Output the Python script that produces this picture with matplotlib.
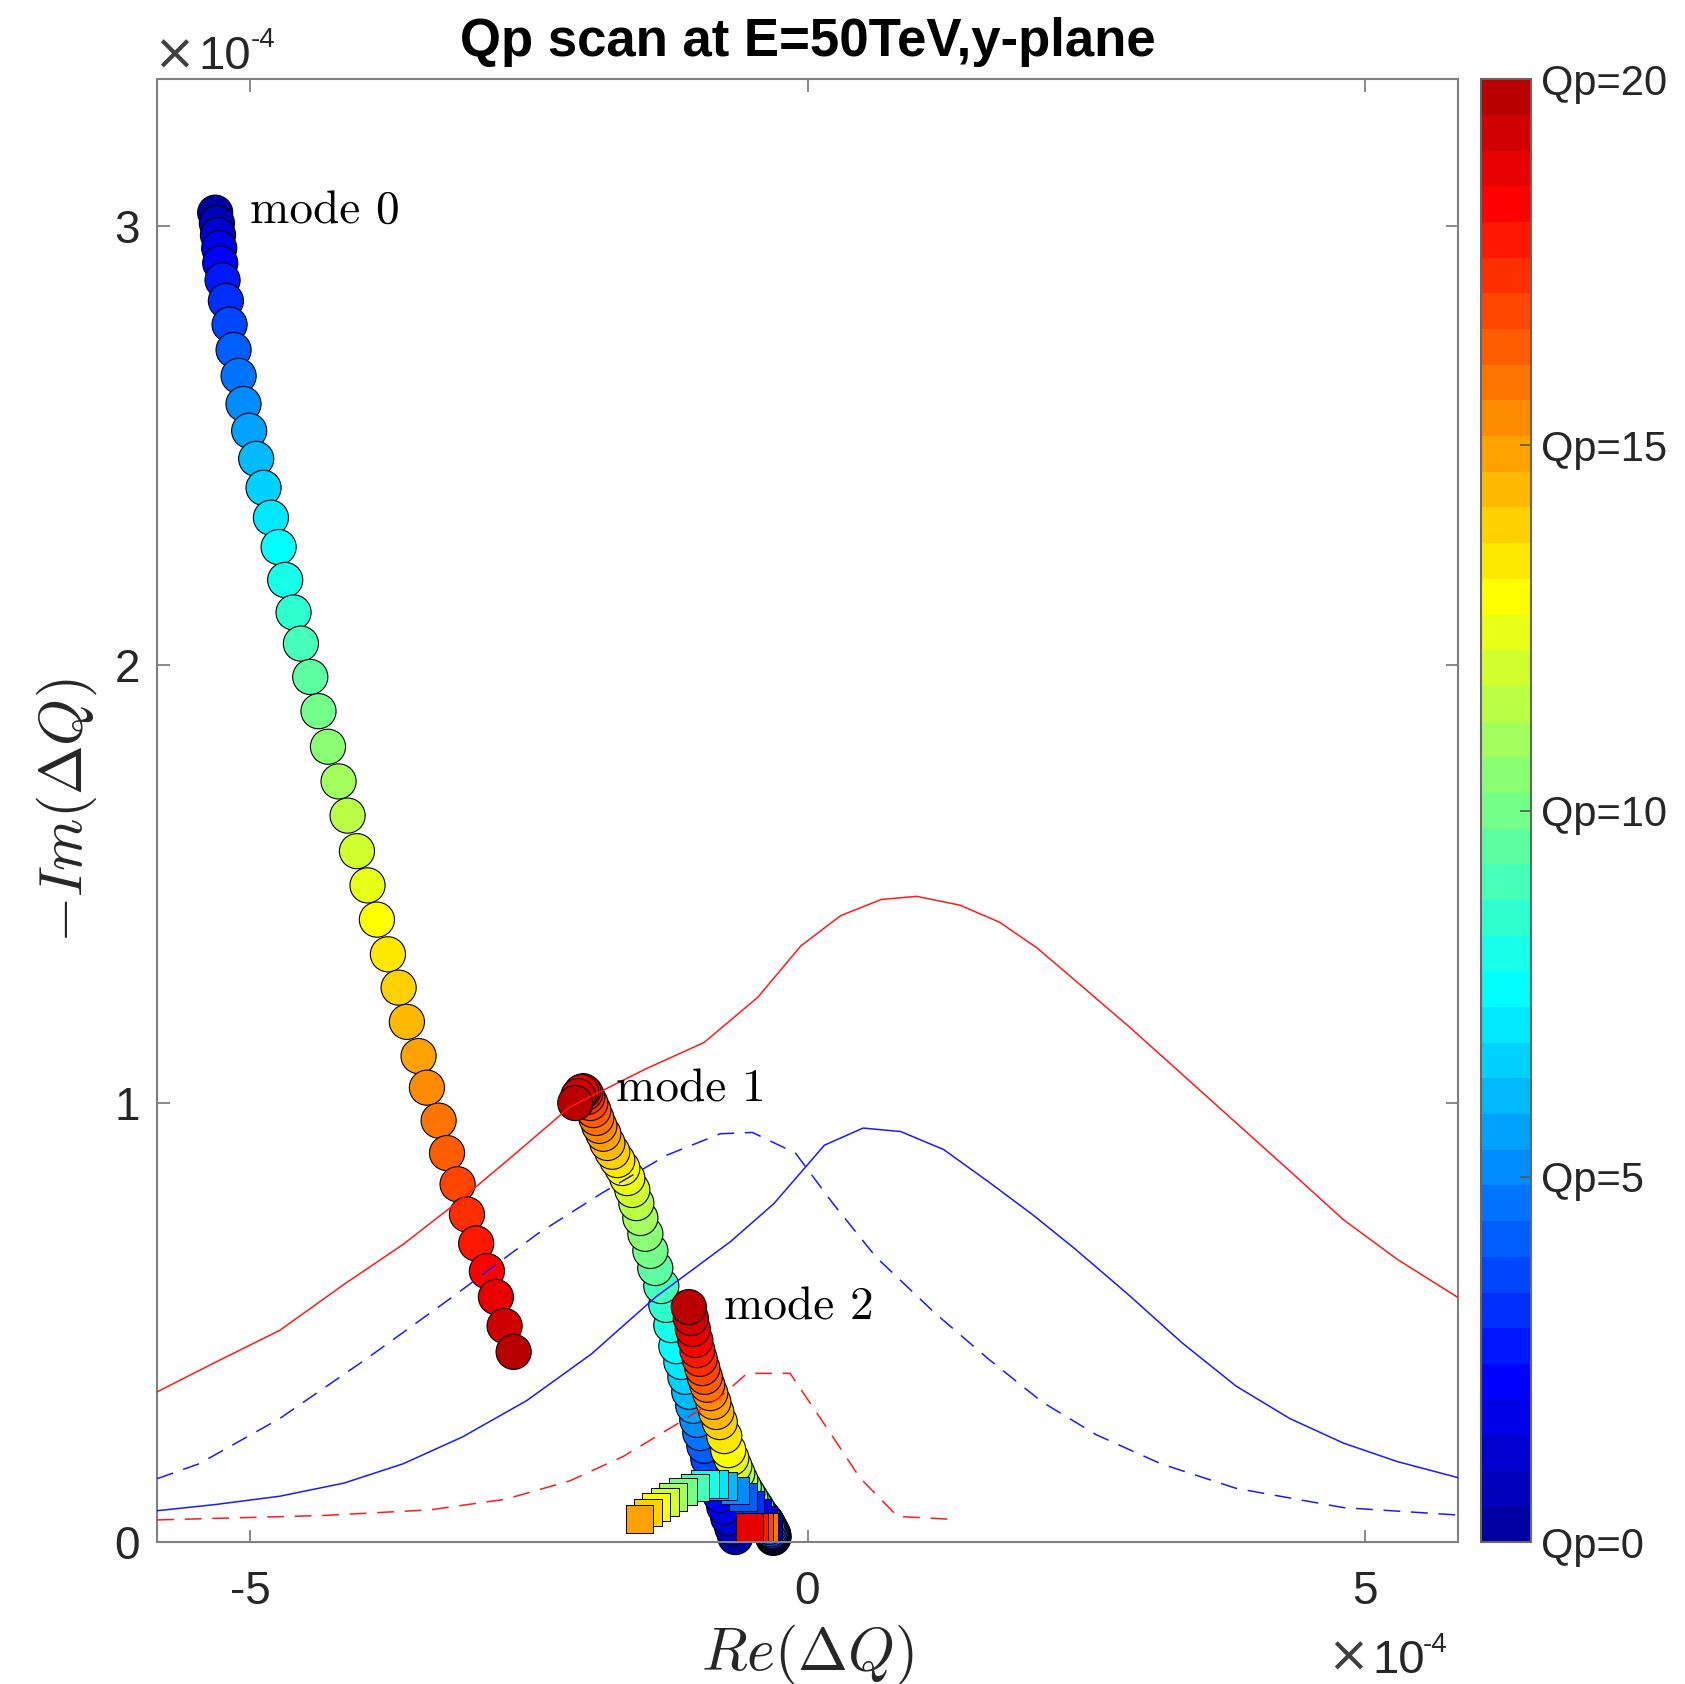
import numpy as np
import matplotlib
matplotlib.use("Agg")
import matplotlib.pyplot as plt
from matplotlib.colors import ListedColormap, Normalize

# ---------------- data (Re / -Im of tune shift, in units of 1e-4) ----------------
qp = [0, 0.5, 1, 1.5, 2, 2.5, 3, 3.5, 4, 4.5, 5, 5.5, 6, 6.5, 7, 7.5, 8, 8.5, 9, 9.5,
      10, 10.5, 11, 11.5, 12, 12.5, 13, 13.5, 14, 14.5, 15, 15.5, 16, 16.5, 17, 17.5,
      18, 18.5, 19, 19.5, 20]

mode0_re = [-5.315, -5.300, -5.290, -5.279, -5.270, -5.249, -5.219, -5.186, -5.150, -5.105,
            -5.061, -5.010, -4.947, -4.881, -4.815, -4.746, -4.687, -4.612, -4.546, -4.462,
            -4.388, -4.303, -4.208, -4.127, -4.043, -3.948, -3.864, -3.765, -3.669, -3.595,
            -3.490, -3.415, -3.310, -3.235, -3.140, -3.056, -2.973, -2.877, -2.796, -2.718, -2.637]
mode0_im = [3.030, 3.006, 2.979, 2.949, 2.915, 2.876, 2.829, 2.775, 2.717, 2.658,
            2.594, 2.533, 2.469, 2.403, 2.335, 2.268, 2.193, 2.119, 2.048, 1.972,
            1.894, 1.813, 1.734, 1.656, 1.575, 1.497, 1.419, 1.340, 1.264, 1.186,
            1.108, 1.036, 0.961, 0.887, 0.816, 0.747, 0.681, 0.618, 0.559, 0.493, 0.434]

mode1_re = [-0.648, -0.675, -0.711, -0.747, -0.783, -0.818, -0.854, -0.890, -0.926, -0.962,
            -0.989, -1.025, -1.061, -1.096, -1.132, -1.177, -1.222, -1.267, -1.312, -1.366,
            -1.410, -1.455, -1.500, -1.536, -1.572, -1.617, -1.662, -1.707, -1.752, -1.796,
            -1.832, -1.868, -1.895, -1.922, -1.949, -1.976, -1.994, -2.012, -2.030, -2.057, -2.084]
mode1_im = [0.012, 0.033, 0.056, 0.081, 0.108, 0.136, 0.163, 0.190, 0.220, 0.249,
            0.279, 0.311, 0.343, 0.377, 0.411, 0.447, 0.495, 0.541, 0.584, 0.625,
            0.664, 0.703, 0.739, 0.773, 0.803, 0.830, 0.853, 0.871, 0.890, 0.910,
            0.931, 0.949, 0.967, 0.985, 1.001, 1.015, 1.024, 1.028, 1.026, 1.017, 1.001]

mode2_re = [-0.307, -0.307, -0.307, -0.307, -0.311, -0.316, -0.320, -0.325, -0.334, -0.343,
            -0.352, -0.361, -0.374, -0.388, -0.406, -0.424, -0.442, -0.459, -0.486, -0.513,
            -0.540, -0.572, -0.603, -0.630, -0.657, -0.684, -0.711, -0.747, -0.787, -0.818,
            -0.845, -0.873, -0.900, -0.922, -0.944, -0.967, -0.989, -1.007, -1.029, -1.047, -1.065]
mode2_im = [0.010, 0.012, 0.014, 0.017, 0.019, 0.021, 0.023, 0.026, 0.030, 0.035,
            0.039, 0.044, 0.049, 0.053, 0.058, 0.065, 0.071, 0.080, 0.090, 0.101,
            0.112, 0.126, 0.142, 0.158, 0.174, 0.192, 0.210, 0.242, 0.274, 0.297,
            0.320, 0.340, 0.359, 0.377, 0.397, 0.418, 0.438, 0.461, 0.486, 0.511, 0.536]

sq_qp = [0, 1, 2, 3, 4, 5, 6, 7, 8, 9, 10, 11, 12, 13, 14, 15, 16, 17, 18, 19]
sq_re = [-0.352, -0.397, -0.450, -0.513, -0.579, -0.654, -0.758, -0.834, -0.923, -1.013,
         -1.117, -1.207, -1.282, -1.357, -1.431, -1.507, -0.385, -0.433, -0.477, -0.520]
sq_im = [0.035, 0.051, 0.067, 0.085, 0.103, 0.118, 0.129, 0.133, 0.133, 0.125,
         0.116, 0.103, 0.091, 0.080, 0.068, 0.053, 0.035, 0.035, 0.035, 0.035]

# stability diagram curves
red_solid_re = [-5.835, -5.315, -4.736, -4.158, -3.628, -3.097, -2.615, -2.133, -1.458, -0.928,
                -0.446, -0.060, 0.297, 0.663, 0.981, 1.367, 1.724, 2.062, 2.399, 2.881,
                3.364, 3.846, 4.328, 4.810, 5.292, 5.842]
red_solid_im = [0.343, 0.410, 0.483, 0.588, 0.679, 0.784, 0.887, 0.992, 1.078, 1.139,
                1.242, 1.359, 1.428, 1.465, 1.472, 1.452, 1.413, 1.354, 1.281, 1.176,
                1.066, 0.956, 0.846, 0.735, 0.645, 0.557]

blue_solid_re = [-5.835, -5.315, -4.736, -4.158, -3.628, -3.097, -2.519, -1.940, -1.362, -0.687,
                 -0.301, 0.152, 0.499, 0.837, 1.222, 1.627, 2.013, 2.399, 2.881, 3.364,
                 3.846, 4.328, 4.810, 5.292, 5.842]
blue_solid_im = [0.072, 0.086, 0.105, 0.135, 0.179, 0.240, 0.323, 0.429, 0.559, 0.686,
                 0.772, 0.905, 0.944, 0.936, 0.895, 0.821, 0.748, 0.669, 0.564, 0.454,
                 0.356, 0.282, 0.226, 0.184, 0.147]

blue_dash_re = [-5.835, -5.459, -4.736, -3.964, -3.192, -2.422, -1.844, -1.265, -0.783, -0.494,
                -0.108, 0.229, 0.615, 1.145, 1.627, 2.110, 2.592, 3.171, 3.846, 4.810, 5.842]
blue_dash_im = [0.145, 0.179, 0.282, 0.417, 0.558, 0.703, 0.796, 0.882, 0.931, 0.934,
                0.887, 0.772, 0.650, 0.522, 0.417, 0.319, 0.245, 0.179, 0.123, 0.079, 0.062]

red_dash_re = [-5.835, -4.351, -3.386, -2.711, -2.133, -1.651, -1.168, -0.783, -0.542, -0.156,
               0.181, 0.470, 0.808, 1.319]
red_dash_im = [0.051, 0.061, 0.074, 0.098, 0.140, 0.196, 0.270, 0.331, 0.385, 0.385,
               0.258, 0.147, 0.059, 0.052]

mode_labels = ["mode 0", "mode 1", "mode 2"]
label_re = [-5.007, -1.716, -0.753]
label_im = [3.007, 1.004, 0.507]

cbar_ticks = [0, 5, 10, 15, 20]
cbar_labels = ["Qp=0", "Qp=5", "Qp=10", "Qp=15", "Qp=20"]


# ---------------- MATLAB jet colormap ----------------
def matlab_jet(m):
    n = int(np.ceil(m / 4))
    u = np.concatenate([np.arange(1, n + 1) / n, np.ones(n - 1), np.arange(n, 0, -1) / n])
    g = int(np.ceil(n / 2)) - (1 if m % 4 == 1 else 0) + np.arange(1, len(u) + 1)
    r = g + n
    b = g - n
    g = g[g <= m]
    r = r[r <= m]
    b = b[b >= 1]
    J = np.zeros((m, 3))
    J[r - 1, 0] = u[:len(r)]
    J[g - 1, 1] = u[:len(g)]
    J[b - 1, 2] = u[len(u) - len(b):]
    return J


jet = matlab_jet(41)
cmap = ListedColormap(jet)
norm = Normalize(0, 20)


def cols(values):
    return [jet[int(round(v * 2))] for v in values]


plt.rcParams['font.family'] = ['Liberation Sans', 'DejaVu Sans']
plt.rcParams['mathtext.fontset'] = 'cm'

W, H = 1685, 1684
fig = plt.figure(figsize=(W / 100, H / 100), dpi=100)
fig.patch.set_facecolor('white')

ax_l, ax_r, ax_t, ax_b = 156.7, 1458.3, 79.3, 1542.3
ax = fig.add_axes([ax_l / W, 1 - ax_b / H, (ax_r - ax_l) / W, (ax_b - ax_t) / H])

circ_s = 640
ax.scatter(mode0_re, mode0_im, s=circ_s, c=cols(qp), edgecolors='k', linewidths=0.8, zorder=2, clip_on=False)
ax.scatter(mode1_re, mode1_im, s=circ_s, c=cols(qp), edgecolors='k', linewidths=0.8, zorder=2, clip_on=False)
ax.scatter(mode2_re, mode2_im, s=circ_s, c=cols(qp), edgecolors='k', linewidths=0.8, zorder=2, clip_on=False)
ax.scatter(sq_re, sq_im, s=400, marker='s', c=cols(sq_qp), edgecolors='k', linewidths=0.7, zorder=2.5, clip_on=False)

ax.plot(red_solid_re, red_solid_im, color='#ff1a1a', lw=1.1, zorder=3)
ax.plot(blue_solid_re, blue_solid_im, color='#1a1aff', lw=1.1, zorder=3)
ax.plot(blue_dash_re, blue_dash_im, color='#1a1aff', lw=1.1, ls=(0, (11, 7)), zorder=3)
ax.plot(red_dash_re, red_dash_im, color='#ff1a1a', lw=1.1, ls=(0, (11, 7)), zorder=3)

for t, x, y in zip(mode_labels, label_re, label_im):
    ax.text(x, y, t, fontfamily='cmr10', fontsize=34, ha='left', va='baseline', zorder=4)

ax.set_xlim(-5.84, 5.84)
ax.set_ylim(0, 3.334)
ax.set_xticks([-5, 0, 5])
ax.set_xticklabels(['-5', '0', '5'])
ax.set_yticks([0, 1, 2, 3])
ax.set_yticklabels(['0', '1', '2', '3'])
for s in ax.spines.values():
    s.set_color('#808080')
    s.set_linewidth(1.5)
ax.tick_params(direction='in', length=9, width=1.3, color='#808080', labelsize=33,
               labelcolor='#262626', top=True, right=True)
ax.tick_params(axis='x', pad=20)
ax.tick_params(axis='y', pad=12)

ax.set_title('Qp scan at E=50TeV,y-plane', fontsize=38, fontweight='bold', pad=16.6)
ax.set_xlabel(r'$Re(\Delta Q)$', fontsize=43, color='#262626')
ax.xaxis.set_label_coords(0.5, -0.0545)
ax.set_ylabel(r'$-Im(\Delta Q)$', fontsize=43, color='#262626')
ax.yaxis.set_label_coords(-0.0443, 0.5)

# colorbar
cb_l, cb_r = 1481.0, 1531.0
cax = fig.add_axes([cb_l / W, 1 - ax_b / H, (cb_r - cb_l) / W, (ax_b - ax_t) / H])
sm = plt.cm.ScalarMappable(norm=norm, cmap=cmap)
cb = fig.colorbar(sm, cax=cax, ticks=cbar_ticks)
cb.set_ticklabels(cbar_labels)
cax.tick_params(direction='in', length=8, width=1.2, color='#555555', labelsize=30,
                pad=7, labelcolor='#262626')
cb.outline.set_edgecolor('#666666')
cb.outline.set_linewidth(1.5)

# exponent labels (x10^-4)
def exponent(x_times, x_ten, x_sup, y_base, y_times, y_sup):
    fig.text(x_times / W, 1 - y_times / H, '\u00d7', fontsize=36, color='#404040',
             ha='left', va='baseline', fontfamily='DejaVu Sans')
    fig.text(x_ten / W, 1 - y_base / H, '10', fontsize=34, color='#262626', ha='left', va='baseline')
    fig.text(x_sup / W, 1 - y_sup / H, '-4', fontsize=20, color='#262626', ha='left', va='baseline')


exponent(153, 198, 251, 69.3, 70.0, 46.7)
exponent(1327, 1372, 1423, 1673.0, 1672.0, 1652.0)

fig.savefig('out.png', dpi=100)
